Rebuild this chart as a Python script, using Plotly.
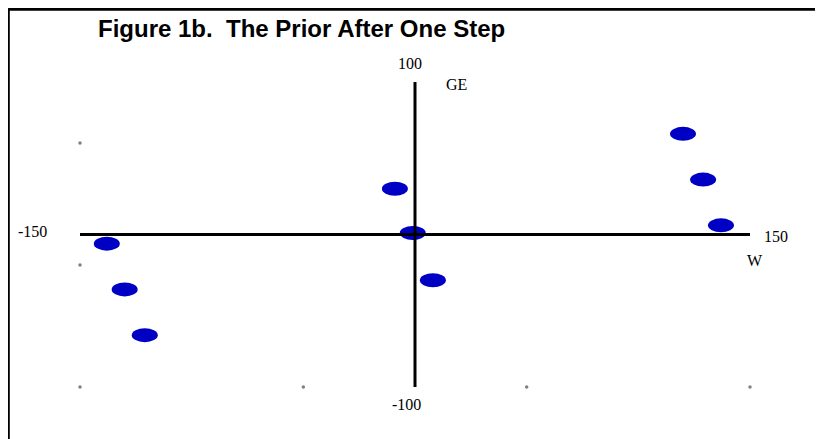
import plotly.graph_objects as go

# Data
w_vals = [-138, -130, -121, -9, -1, 8, 120, 129, 137]
ge_vals = [-6, -36, -66, 30, 1, -30, 66, 36, 6]

# small gray reference dots
dot_x = [-150, -150, -150, -50, 50, 150]
dot_y = [60, -20, -100, -100, -100, -100]

x_range = [-150, 150]
y_range = [-100, 100]
x_labels = ["-150", "150"]
y_labels = ["100", "-100"]
title_text = "Figure 1b.\u00a0 The Prior After One Step"

fig = go.Figure()
fig.add_trace(go.Scatter(x=dot_x, y=dot_y, mode="markers",
                         marker=dict(size=3.5, color="#808080"),
                         cliponaxis=False,
                         hoverinfo="skip", showlegend=False))
# invisible trace for hover on points
fig.add_trace(go.Scatter(x=w_vals, y=ge_vals, mode="markers",
                         marker=dict(size=14, color="rgba(0,0,0,0)"),
                         cliponaxis=False, showlegend=False))

shapes = []
for xv, yv in zip(w_vals, ge_vals):
    shapes.append(dict(type="circle", xref="x", yref="y",
                       xsizemode="pixel", ysizemode="pixel",
                       xanchor=xv, yanchor=yv,
                       x0=-13, x1=13, y0=-7, y1=7,
                       fillcolor="#0000C4", line=dict(width=0),
                       layer="below"))
# axes lines
shapes.append(dict(type="line", xref="x", yref="y", x0=x_range[0], x1=x_range[1],
                   y0=0, y1=0, line=dict(color="black", width=3), layer="above"))
shapes.append(dict(type="line", xref="x", yref="y", x0=0, x1=0,
                   y0=y_range[0], y1=y_range[1], line=dict(color="black", width=3), layer="above"))
# frame (left and top edges)
shapes.append(dict(type="line", xref="paper", yref="paper", x0=-0.1074, x1=-0.1074,
                   y0=-0.3, y1=1.2384, line=dict(color="black", width=3.5)))
shapes.append(dict(type="line", xref="paper", yref="paper", x0=-0.1074, x1=1.2,
                   y0=1.2384, y1=1.2384, line=dict(color="black", width=3)))

serif = dict(family="Liberation Serif, Times New Roman, serif", size=16, color="black")
annotations = [
    dict(x=0, y=y_range[1], xref="x", yref="y", text=y_labels[0], showarrow=False,
         xshift=-5, yshift=19, font=serif),
    dict(x=0, y=y_range[0], xref="x", yref="y", text=y_labels[1], showarrow=False,
         xshift=-8.5, yshift=-17.5, font=serif),
    dict(x=x_range[0], y=0, xref="x", yref="y", text=x_labels[0], showarrow=False,
         xshift=-47.5, yshift=3, font=serif),
    dict(x=x_range[1], y=0, xref="x", yref="y", text=x_labels[1], showarrow=False,
         xshift=25.5, yshift=-2, font=serif),
    dict(x=0, y=y_range[1], xref="x", yref="y", text="GE", showarrow=False,
         xshift=41, yshift=-2, font=serif),
    dict(x=x_range[1], y=0, xref="x", yref="y", text="W", showarrow=False,
         xshift=5, yshift=-26, font=serif),
    dict(x=0.0245, y=1.1738, xref="paper", yref="paper", text="<b>" + title_text + "</b>",
         showarrow=False, xanchor="left", yanchor="middle",
         font=dict(family="Liberation Sans, Arial, sans-serif", size=24, color="black")),
]

fig.update_layout(
    width=823, height=439,
    margin=dict(l=72, r=81, t=74, b=60),
    paper_bgcolor="white", plot_bgcolor="white",
    xaxis=dict(range=x_range, showgrid=False, zeroline=False, showticklabels=False,
               showline=False, ticks=""),
    yaxis=dict(range=y_range, showgrid=False, zeroline=False, showticklabels=False,
               showline=False, ticks=""),
    shapes=shapes, annotations=annotations, showlegend=False,
)

fig.write_html("out.html")
